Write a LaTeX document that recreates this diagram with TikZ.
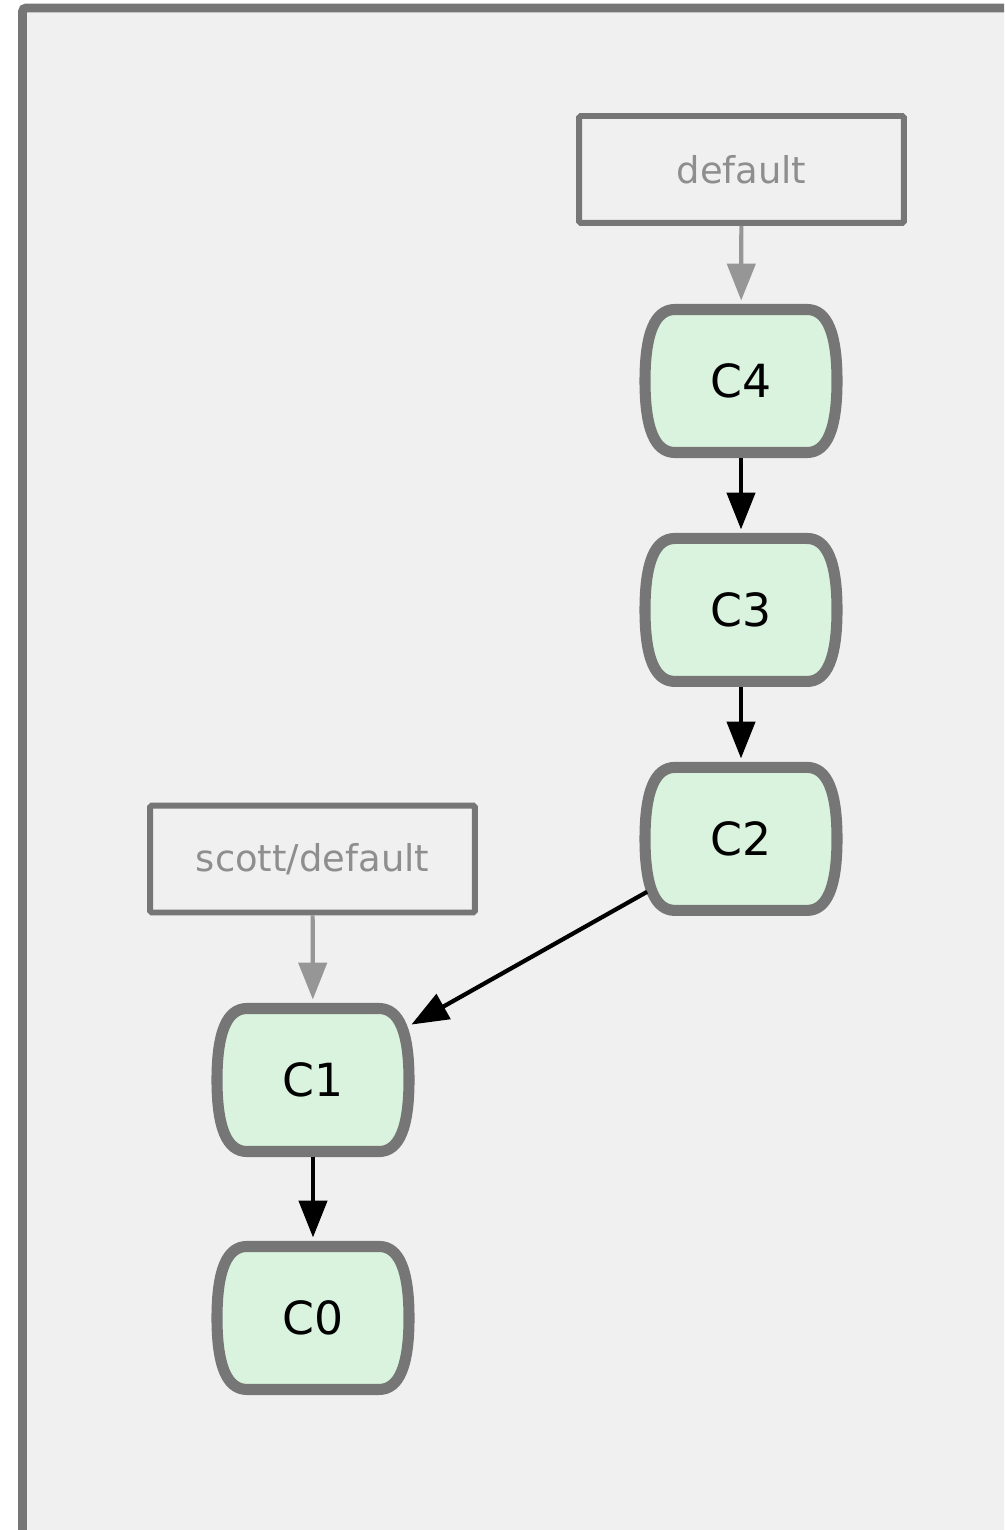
\documentclass[tikz,border=0pt]{standalone}
\usepackage{fontspec}
\setmainfont{DejaVu Sans}
\usepackage{xcolor}
\definecolor{commitfill}{HTML}{D9F3DE}
\definecolor{strokegray}{HTML}{767676}
\definecolor{labelgray}{HTML}{8E8E8E}
\definecolor{refgray}{HTML}{969696}
\definecolor{panelgray}{HTML}{F0F0F0}
\usepackage{tikz}
\usetikzlibrary{arrows.meta,positioning,backgrounds}
\tikzset{
  >={Triangle[length=21pt,width=16pt]},
  commit/.style={rectangle,inner sep=0pt,outer sep=0pt,minimum width=4.0cm,minimum height=3.08cm,font=\fontsize{26}{30}\selectfont,text=black},
  barrel/.style={draw=strokegray,line width=6.3pt,line join=round,fill=commitfill},
  branch/.style={rectangle,draw=strokegray,line width=3.4pt,rounded corners=1pt,fill=panelgray,minimum width=6.5cm,minimum height=2.14cm,font=\fontsize{21}{25}\selectfont,text=labelgray},
  edge/.style={->,line width=2.4pt,shorten >=2pt},
  parent/.style={edge,draw=black},
  ref/.style={edge,draw=refgray},
  frame/.style={draw=strokegray,line width=5pt,fill=panelgray,rounded corners=2pt}
}

\begin{document}
\begin{tikzpicture}[x=0.02cm,y=-0.02cm,node distance=4.58cm]
  \useasboundingbox (0,0) rectangle (1004,1530);

  % Commits
  \node[commit] (c4) at (741,381) {C4};
  \node[commit,below of=c4] (c3) {C3};
  \node[commit,below of=c3] (c2) {C2};
  \node[commit] (c1) at (313,1080) {C1};
  \node[commit,below of=c1,node distance=4.76cm] (c0) {C0};

  % Branches
  \node[branch] (default) at (741.5,169.5) {default};
  \node[branch] (scott) at (312.5,859) {scott/default};

  % Panel and commit outlines
  \begin{scope}[on background layer]
    \begin{scope}
      \clip (0,0) rectangle (1004,1530);
      \path[frame] (22.5,8) rectangle (1060,1580);
    \end{scope}
    \foreach \c in {c4,c3,c2,c1,c0}
      \path[barrel,shift={(\c.center)}] (-66,-71.5) -- (66,-71.5)
        .. controls (86,-71.5) and (96,-48) .. (96,0)
        .. controls (96,48) and (86,71.5) .. (66,71.5) -- (-66,71.5)
        .. controls (-86,71.5) and (-96,48) .. (-96,0)
        .. controls (-96,-48) and (-86,-71.5) .. (-66,-71.5) -- cycle;
  \end{scope}

  % Parent arrows
  \draw[parent] (c4) -- (c3);
  \draw[parent] (c3) -- (c2);
  \draw[parent,shorten <=-4pt,shorten >=-1pt] (c2) -- (c1);
  \draw[parent] (c1) -- (c0);

  % Branch pointers
  \draw[ref] (default) -- (c4);
  \draw[ref] (scott) -- (c1);
\end{tikzpicture}
\end{document}
